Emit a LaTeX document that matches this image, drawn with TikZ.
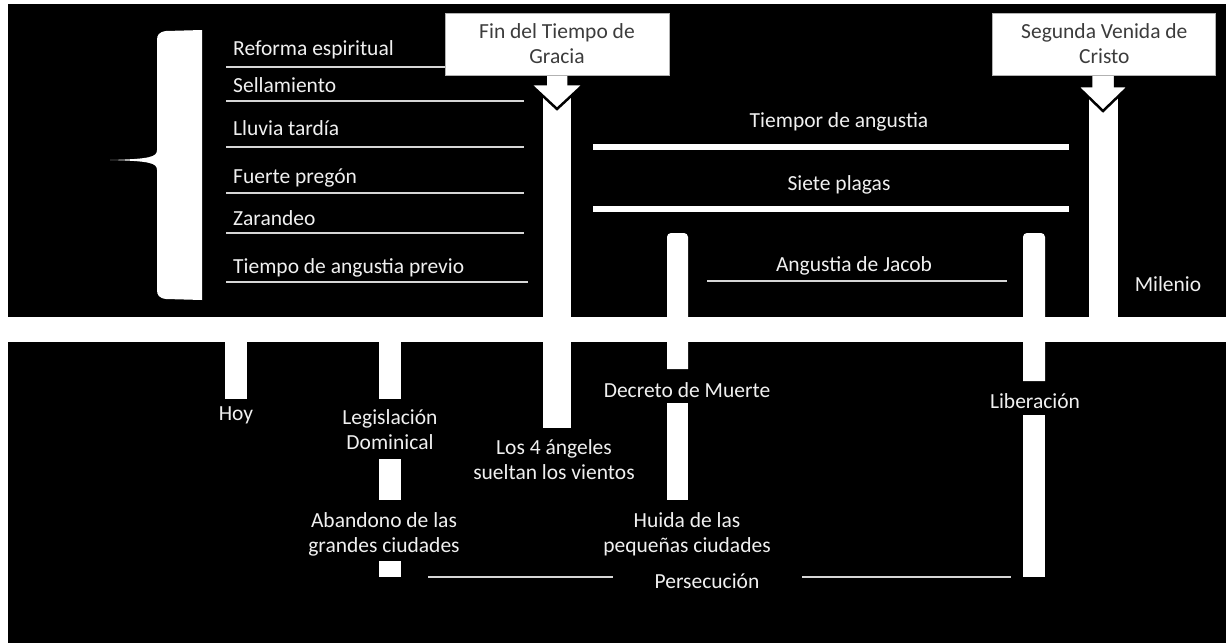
\documentclass[tikz,border=0pt]{standalone}
\usepackage{fontspec}
\setmainfont{Carlito}
\usetikzlibrary{positioning}
\definecolor{lbl}{HTML}{F0F0F0}
\definecolor{boxtext}{HTML}{3C3C3C}
\definecolor{rulegray}{HTML}{D6D6D6}

\begin{document}
\begin{tikzpicture}[x=1pt,y=-1pt,
                    txt/.style={text=lbl,inner sep=0pt,font=\fontsize{21.5}{25}\selectfont},
                    side/.style={txt,anchor=base west},
                    plain/.style={txt,anchor=base},
                    two/.style={txt,align=center},
                    event/.style={draw=gray!60,line width=0.8pt,fill=white,text=boxtext,
                                  align=center,minimum height=62pt,inner sep=0pt,
                                  font=\fontsize{21.5}{25}\selectfont},
                    rule/.style={rulegray,line width=2pt},
                    wide/.style={white,line width=6pt},
                    tip/.style={fill=white,draw=black,line width=2.5pt,line join=miter}]

  \useasboundingbox (0,0) rectangle (1230,643);
  \fill[white] (0,0) rectangle (1230,643);
  \fill[black] (8,4) rectangle (1226,643);

  \fill[white] (202,30) -- (166,31) .. controls (159,32) and (157,35) .. (157,40)
    -- (157,150) .. controls (157,157) and (150,159) .. (110,160)
    .. controls (150,161) and (157,163) .. (157,170)
    -- (157,290) .. controls (157,295) and (159,298) .. (166,299) -- (202,300) -- cycle;

  \fill[white] (8,317) rectangle (1226,342);

  \fill[white] (543,92) rectangle (571,428);
  \fill[white] (1089,92) rectangle (1118,320);
  \fill[white] (225,330) rectangle (247,399);
  \fill[white] (379,330) rectangle (401,399);
  \fill[white] (379,459) rectangle (401,500);
  \fill[white] (379,561) rectangle (401,577);
  \fill[white] (667,369) [rounded corners=4pt] -- (667,233) -- (688,233) [sharp corners] -- (688,369) -- cycle;
  \fill[white] (667,403) rectangle (688,500);
  \fill[white] (1023,381) [rounded corners=4pt] -- (1023,233) -- (1045,233) [sharp corners] -- (1045,381) -- cycle;
  \fill[white] (1023,415) rectangle (1045,577);

  \path[tip] (545.5,70) -- (545.5,84) -- (530,84) -- (557,109) -- (584,84) -- (568.5,84) -- (568.5,70) -- cycle;
  \path[tip] (1091,70) -- (1091,86) -- (1077,86) -- (1103,111) -- (1129,86) -- (1115,86) -- (1115,70) -- cycle;

  \draw[rule] (226,67) -- (445,67);
  \draw[rule] (226,101) -- (524,101);
  \draw[rule] (226,147) -- (524,147);
  \draw[rule] (226,193) -- (524,193);
  \draw[rule] (226,233) -- (524,233);
  \draw[rule] (226,282) -- (528,282);
  \draw[wide] (593,147) -- (1069,147);
  \draw[wide] (593,209) -- (1069,209);
  \draw[rule] (707,281) -- (1007,281);
  \draw[rule] (428,577) -- (613,577);
  \draw[rule] (802,577) -- (1011,577);

  \node[event,minimum width=224pt] (fin) at (557,44) {Fin del Tiempo de\\Gracia};
  \node[event,minimum width=223pt] (venida) [right=323pt of fin] {Segunda Venida de\\Cristo};

  \node[side] (reforma)  at (233,55)  {Reforma espiritual};
  \node[side] (sello)    at (233,92)  {Sellamiento};
  \node[side] (lluvia)   at (233,135) {Lluvia tardía};
  \node[side] (pregon)   at (233,183) {Fuerte pregón};
  \node[side] (zarandeo) at (233,225) {Zarandeo};
  \node[side] (previo)   at (233,273) {Tiempo de angustia previo};

  \node[plain] (angustia)    at (839,127)  {Tiempor de angustia};
  \node[plain] (plagas)      at (839,190)  {Siete plagas};
  \node[plain] (jacob)       at (854,271)  {Angustia de Jacob};
  \node[plain] (milenio)     at (1168,291) {Milenio};
  \node[plain] (hoy)         at (236,420)  {Hoy};
  \node[two]   (dominical)   at (390,430)  {Legislación\\Dominical};
  \node[two]   (vientos)     at (554,460)  {Los 4 ángeles\\sueltan los vientos};
  \node[plain] (decreto)     at (687,397)  {Decreto de Muerte};
  \node[plain] (liberacion)  at (1035,408) {Liberación};
  \node[two]   (abandono)    at (384,534)  {Abandono de las\\grandes ciudades};
  \node[two]   (huida)       at (687,534)  {Huida de las\\pequeñas ciudades};
  \node[plain] (persecucion) at (707,588)  {Persecución};
\end{tikzpicture}
\end{document}
